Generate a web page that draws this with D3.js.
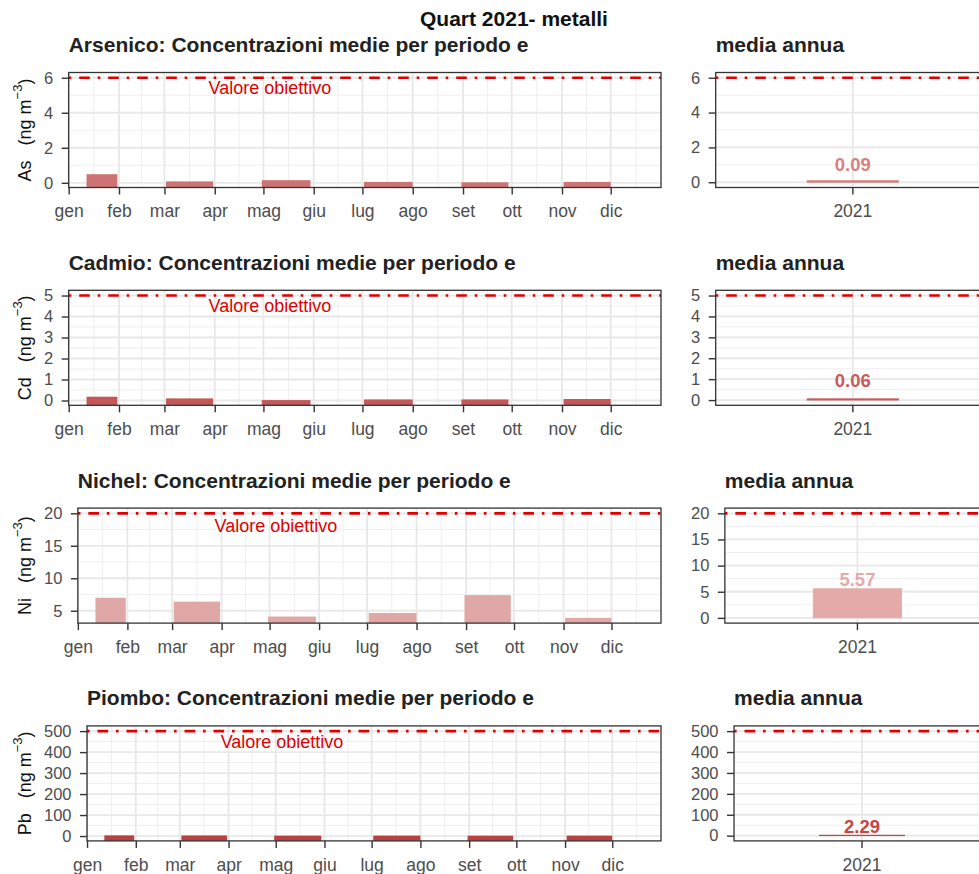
<!DOCTYPE html>
<html>
<head>
<meta charset="utf-8">
<script src="https://cdn.jsdelivr.net/npm/d3@7"></script>
<style>
  body { margin: 0; background: #fff; }
  svg { display: block; font-family: "Liberation Sans", Arial, sans-serif; }
</style>
</head>
<body>
<script>
// sampling periods
const periodStart = ["2021-01-12", "2021-03-02", "2021-04-30", "2021-07-02", "2021-08-31", "2021-11-02"];
const periodEnd = ["2021-01-31", "2021-03-31", "2021-05-30", "2021-08-01", "2021-09-29", "2021-12-01"];
const monthLabels = ["gen", "feb", "mar", "apr", "mag", "giu", "lug", "ago", "set", "ott", "nov", "dic"];

// period means (ng/m3)
const asValues = [0.49, 0.08, 0.15, 0.05, 0.03, 0.05];
const cdValues = [0.18, 0.10, 0.02, 0.05, 0.05, 0.07];
const niValues = [7.0, 6.4, 4.1, 4.65, 7.4, 3.9];
const pbValues = [3.2, 2.8, 2.0, 2.1, 1.7, 1.9];

const pollutants = ["Arsenico", "Cadmio", "Nichel", "Piombo"];
const symbols = ["As", "Cd", "Ni", "Pb"];
const targetValues = [6, 5, 20, 500];
const annualValues = [0.09, 0.06, 5.57, 2.29];
const yearLabels = ["2021"];

const yTicks = [[0, 2, 4, 6], [0, 1, 2, 3, 4, 5], [5, 10, 15, 20], [0, 100, 200, 300, 400, 500]];
const annualTicks = [[0, 2, 4, 6], [0, 1, 2, 3, 4, 5], [0, 5, 10, 15, 20], [0, 100, 200, 300, 400, 500]];

const series = [asValues, cdValues, niValues, pbValues];

// layout / style
const width = 979, height = 874;
const rowTop = 72.5, rowStep = 217.8, panelH = 115;
const leftEnd = 661, rightEnd = 990;
const barColors = ["#cd7373", "#c55757", "#e0a7a7", "#b94141"];
const annualColors = ["#d78080", "#c95a5a", "#e4a9a9", "#c24747"];
const labelLift = [10, 12, 3, 2];
const targetRed = "#e00000";
const dash = "2.6 7.9 10.6 7.9";
const tickFmt = d3.format("d");

const parse = d3.timeParse("%Y-%m-%d");
const xDomain = [parse("2021-01-01"), parse("2022-01-01")];
const monthStarts = d3.timeMonth.range(xDomain[0], xDomain[1]);
const monthMids = monthStarts.map(d => new Date((+d + +d3.timeMonth.offset(d, 1)) / 2));
const noteDate = parse("2021-05-05");

const svg = d3.select("body").append("svg")
    .attr("width", width)
    .attr("height", height);

svg.append("rect").attr("width", width).attr("height", height).attr("fill", "#fff");

const measure = (txt, size) => {
  const t = svg.append("text").style("font-size", size + "px").text(txt);
  const w = t.node().getComputedTextLength();
  t.remove();
  return w;
};

// main title
svg.append("text")
    .attr("x", 514).attr("y", 26)
    .attr("text-anchor", "middle")
    .style("font-weight", "bold").style("font-size", "21px")
    .attr("fill", "#111")
    .text("Quart 2021- metalli");

const minorOf = (ticks, domain) => {
  const step = ticks[1] - ticks[0];
  const lo = Math.min(domain[0], domain[1]), hi = Math.max(domain[0], domain[1]);
  return d3.range(ticks[0] - step / 2, ticks[ticks.length - 1] + step, step)
      .filter(v => v >= lo && v <= hi);
};

const styleAxis = (g, size) => {
  g.select(".domain").remove();
  g.selectAll(".tick line").attr("stroke", "#333").attr("stroke-width", 1.4);
  g.selectAll(".tick text")
      .attr("fill", "#4d4d4d")
      .style("font-size", size + "px")
      .style("font-family", "'Liberation Sans', Arial, sans-serif");
};

const gridMinor = "#efefef", gridMajor = "#e8e8e8";

series.forEach((values, i) => {
  const top = rowTop + i * rowStep;
  const bottom = top + panelH;

  // ---------- left panel: period means ----------
  const wLab = d3.max(yTicks[i], t => measure(tickFmt(t), 16.5));
  const left = 44 + wLab + 15.5;

  const lo = d3.min(values), hi = targetValues[i];
  const pad = (hi - lo) * 0.05;
  const y = d3.scaleLinear().domain([lo - pad, hi + pad]).range([bottom, top]);
  const x = d3.scaleTime().domain(xDomain).range([left, leftEnd]);

  const g = svg.append("g");

  // grid
  g.selectAll(".hmin").data(minorOf(yTicks[i], y.domain())).enter().append("line")
      .attr("x1", left).attr("x2", leftEnd)
      .attr("y1", d => y(d)).attr("y2", d => y(d))
      .attr("stroke", gridMinor).attr("stroke-width", 1);
  g.selectAll(".vmin").data(monthMids).enter().append("line")
      .attr("x1", d => x(d)).attr("x2", d => x(d))
      .attr("y1", top).attr("y2", bottom)
      .attr("stroke", gridMinor).attr("stroke-width", 1);
  g.selectAll(".hmaj").data(yTicks[i]).enter().append("line")
      .attr("x1", left).attr("x2", leftEnd)
      .attr("y1", d => y(d)).attr("y2", d => y(d))
      .attr("stroke", gridMajor).attr("stroke-width", 1.8);
  g.selectAll(".vmaj").data(monthStarts).enter().append("line")
      .attr("x1", d => x(d)).attr("x2", d => x(d))
      .attr("y1", top).attr("y2", bottom)
      .attr("stroke", gridMajor).attr("stroke-width", 1.8);

  // bars (from the panel bottom up to the value)
  g.selectAll(".bar").data(values).enter().append("rect")
      .attr("x", (d, k) => x(parse(periodStart[k])))
      .attr("width", (d, k) => x(parse(periodEnd[k])) - x(parse(periodStart[k])))
      .attr("y", d => y(d))
      .attr("height", d => bottom - y(d))
      .attr("fill", barColors[i]);

  // target line
  g.append("line")
      .attr("x1", left).attr("x2", leftEnd)
      .attr("y1", y(hi)).attr("y2", y(hi))
      .attr("stroke", targetRed).attr("stroke-width", 2.6)
      .attr("stroke-dasharray", dash);

  g.append("text")
      .attr("x", x(noteDate)).attr("y", y(hi * 0.9))
      .attr("text-anchor", "middle").attr("dominant-baseline", "central")
      .style("font-size", "18px").attr("fill", targetRed)
      .text("Valore obiettivo");

  // border
  g.append("rect")
      .attr("x", left).attr("y", top)
      .attr("width", leftEnd - left).attr("height", panelH)
      .attr("fill", "none").attr("stroke", "#333").attr("stroke-width", 1.3);

  // axes
  g.append("g")
      .attr("transform", "translate(" + left + ",0)")
      .call(d3.axisLeft(y).tickValues(yTicks[i]).tickFormat(tickFmt).tickSize(7).tickPadding(8.5))
      .call(a => styleAxis(a, 16.5));

  g.append("g")
      .attr("transform", "translate(0," + bottom + ")")
      .call(d3.axisBottom(x).tickValues(monthStarts)
          .tickFormat((d, k) => monthLabels[k]).tickSize(7).tickPadding(10.5))
      .call(a => styleAxis(a, 17.5));

  // panel title
  svg.append("text")
      .attr("x", left).attr("y", top - 20.5)
      .style("font-weight", "bold").style("font-size", "21px")
      .attr("fill", "#222")
      .text(pollutants[i] + ": Concentrazioni medie per periodo e");

  // y axis title
  const yt = svg.append("text")
      .attr("transform", "translate(25," + (top + panelH / 2) + ") rotate(-90)")
      .attr("text-anchor", "middle").attr("dominant-baseline", "central")
      .style("font-size", "18px").style("white-space", "pre")
      .attr("fill", "#111");
  yt.append("tspan").text(symbols[i] + "   (ng m");
  yt.append("tspan").attr("baseline-shift", "super").style("font-size", "13px").text("\u22123");
  yt.append("tspan").text(")");

  // ---------- right panel: annual mean ----------
  const wLabR = d3.max(annualTicks[i], t => measure(tickFmt(t), 16.5));
  const rLeft = 691.5 + wLabR + 15;
  const yr = d3.scaleLinear().domain([-hi * 0.05, hi * 1.05]).range([bottom, top]);
  const xr = d3.scaleBand().domain(yearLabels).range([rLeft, rightEnd])
      .paddingInner(0).paddingOuter(1);
  const cx = xr("2021") + xr.bandwidth() / 2;

  const r = svg.append("g");

  r.selectAll(".hmin").data(minorOf(annualTicks[i], yr.domain())).enter().append("line")
      .attr("x1", rLeft).attr("x2", rightEnd)
      .attr("y1", d => yr(d)).attr("y2", d => yr(d))
      .attr("stroke", gridMinor).attr("stroke-width", 1);
  r.selectAll(".hmaj").data(annualTicks[i]).enter().append("line")
      .attr("x1", rLeft).attr("x2", rightEnd)
      .attr("y1", d => yr(d)).attr("y2", d => yr(d))
      .attr("stroke", gridMajor).attr("stroke-width", 1.8);
  r.append("line")
      .attr("x1", cx).attr("x2", cx).attr("y1", top).attr("y2", bottom)
      .attr("stroke", gridMajor).attr("stroke-width", 1.8);

  r.selectAll(".abar").data([annualValues[i]]).enter().append("rect")
      .attr("x", xr("2021"))
      .attr("width", xr.bandwidth())
      .attr("y", d => yr(d))
      .attr("height", d => yr(0) - yr(d))
      .attr("fill", annualColors[i])
      .attr("stroke", annualColors[i]).attr("stroke-width", 0.8);

  r.append("line")
      .attr("x1", rLeft).attr("x2", rightEnd)
      .attr("y1", yr(hi)).attr("y2", yr(hi))
      .attr("stroke", targetRed).attr("stroke-width", 2.6)
      .attr("stroke-dasharray", dash);

  r.selectAll(".alab").data([annualValues[i]]).enter().append("text")
      .attr("x", cx).attr("y", d => yr(d) - labelLift[i])
      .attr("text-anchor", "middle")
      .style("font-weight", "bold").style("font-size", "18.5px")
      .attr("fill", annualColors[i])
      .text(d => d3.format(".2f")(d));

  r.append("rect")
      .attr("x", rLeft).attr("y", top)
      .attr("width", rightEnd - rLeft).attr("height", panelH)
      .attr("fill", "none").attr("stroke", "#333").attr("stroke-width", 1.3);

  r.append("g")
      .attr("transform", "translate(" + rLeft + ",0)")
      .call(d3.axisLeft(yr).tickValues(annualTicks[i]).tickFormat(tickFmt).tickSize(7).tickPadding(8.5))
      .call(a => styleAxis(a, 16.5));

  r.append("g")
      .attr("transform", "translate(0," + bottom + ")")
      .call(d3.axisBottom(xr).tickSize(7).tickPadding(10.5))
      .call(a => styleAxis(a, 17.5));

  svg.append("text")
      .attr("x", rLeft).attr("y", top - 20.5)
      .style("font-weight", "bold").style("font-size", "21px")
      .attr("fill", "#222")
      .text("media annua");
});
</script>
</body>
</html>
